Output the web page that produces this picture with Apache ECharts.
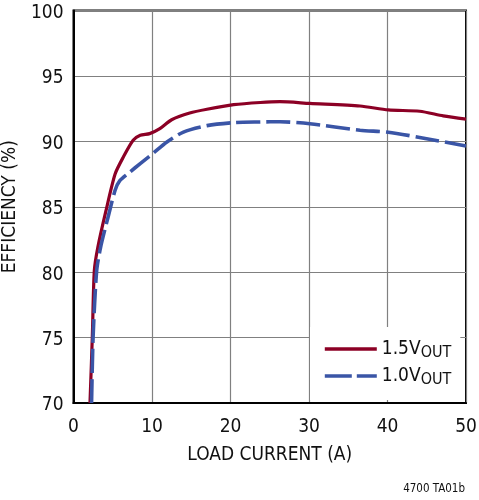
<!DOCTYPE html>
<html>
<head>
<meta charset="utf-8">
<script src="https://cdn.jsdelivr.net/npm/echarts@6/dist/echarts.min.js"></script>
<style>
html,body{margin:0;padding:0;background:#fff;}
#chart{width:479px;height:500px;}
</style>
</head>
<body>
<div id="chart"></div>
<script>
// Load current (A) and efficiency (%)
var current15 = [2.1, 2.4, 2.65, 3.1, 4.1, 5.3, 6.35, 7.6, 8.5, 9.7, 11.0, 12.5, 14.8, 17.0, 20.4, 23.8, 26.3, 30.1, 36.5, 40.1, 44.1, 47.1, 50];
var eff15     = [70, 75.1, 80.1, 81.9, 84.6, 87.5, 88.8, 90.08, 90.46, 90.59, 90.97, 91.65, 92.16, 92.45, 92.8, 92.97, 93.03, 92.9, 92.7, 92.4, 92.3, 91.95, 91.7];
var current10 = [2.3, 2.5, 2.95, 3.45, 4.4, 5.3, 5.9, 7.2, 8.5, 10.1, 11.9, 14.0, 17.0, 20.4, 23.8, 26.3, 30.1, 36.5, 40.1, 44.1, 50];
var eff10     = [70, 75.1, 80.1, 81.9, 84.2, 86.26, 87.0, 87.66, 88.3, 89.06, 89.95, 90.71, 91.2, 91.43, 91.48, 91.5, 91.35, 90.85, 90.7, 90.3, 89.65];
var xTicks = [0, 10, 20, 30, 40, 50];
var yTicks = [70, 75, 80, 85, 90, 95, 100];
var seriesNames = ['1.5V', '1.0V'];

function pairs(xs, ys) { return xs.map(function (x, i) { return [x, ys[i]]; }); }

var FONT = '"DejaVu Sans Condensed", "DejaVu Sans", sans-serif';
var RED = '#8c0025';
var BLUE = '#3a55a6';

var chart = echarts.init(document.getElementById('chart'), null, {renderer: 'canvas'});
chart.setOption({
  animation: false,
  backgroundColor: '#fff',
  grid: {left: 73.5, right: 13, top: 10.5, bottom: 97, show: true, borderColor: '#000', borderWidth: 2,
         backgroundColor: 'transparent', containLabel: false, outerBoundsMode: 'none'},
  xAxis: {
    type: 'value', min: xTicks[0], max: xTicks[xTicks.length - 1], interval: 10,
    name: 'LOAD CURRENT (A)', nameLocation: 'middle', nameGap: 43,
    nameTextStyle: {fontFamily: FONT, fontSize: 19, color: '#111'},
    axisLine: {show: true, lineStyle: {color: '#000', width: 2}},
    axisTick: {show: false},
    axisLabel: {fontFamily: FONT, fontSize: 19, color: '#111', margin: 15},
    splitLine: {show: true, lineStyle: {color: '#808080', width: 1.2}}
  },
  yAxis: {
    type: 'value', min: yTicks[0], max: yTicks[yTicks.length - 1], interval: 5,
    name: 'EFFICIENCY (%)', nameLocation: 'middle', nameGap: 47, nameRotate: 90,
    nameTextStyle: {fontFamily: FONT, fontSize: 19, color: '#111'},
    axisLine: {show: true, lineStyle: {color: '#000', width: 2}},
    axisTick: {show: false},
    axisLabel: {
      fontFamily: FONT, fontSize: 19, color: '#111', margin: 10,
      formatter: function (v) { return '{v|' + v + '}'; },
      rich: {v: {fontFamily: FONT, fontSize: 19, color: '#111', padding: [5, 0, 0, 0]}}
    },
    splitLine: {show: true, lineStyle: {color: '#808080', width: 1.2}}
  },
  legend: {
    orient: 'vertical', left: 310, top: 327,
    padding: [10, 9, 12, 13],
    backgroundColor: '#fff',
    itemWidth: 52, itemHeight: 14, itemGap: 3,
    itemStyle: {opacity: 0, borderWidth: 0},
    data: [
      {name: seriesNames[0], lineStyle: {width: 3.4}},
      {name: seriesNames[1], lineStyle: {width: 3.6, type: [27, 5]}}
    ],
    formatter: function (n) { return '{a|' + n + '}{b|OUT}'; },
    textStyle: {
      fontFamily: FONT, color: '#111', fontSize: 19,
      rich: {
        a: {fontFamily: FONT, fontSize: 19, color: '#111', lineHeight: 22},
        b: {fontFamily: FONT, fontSize: 16, color: '#111', lineHeight: 22, padding: [8, 0, 0, 0]}
      }
    }
  },
  graphic: [{
    type: 'text', right: 14, bottom: 5,
    style: {text: '4700 TA01b', font: '11.5px ' + FONT, fill: '#111'}
  }],
  series: [
    {name: seriesNames[0], type: 'line', data: pairs(current15, eff15), smooth: 0.25, showSymbol: false, symbol: 'none',
     lineStyle: {color: RED, width: 3.2}, itemStyle: {color: RED}, clip: true},
    {name: seriesNames[1], type: 'line', data: pairs(current10, eff10), smooth: 0.25, showSymbol: false, symbol: 'none',
     lineStyle: {color: BLUE, width: 3.6, type: [24, 6]}, itemStyle: {color: BLUE}, clip: true}
  ]
});
</script>
</body>
</html>
